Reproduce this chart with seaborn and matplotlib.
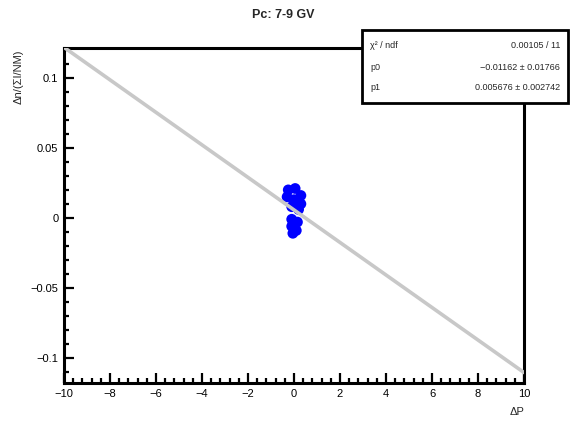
import numpy as np
import pandas as pd
import matplotlib
matplotlib.use("Agg")
import matplotlib.pyplot as plt
import seaborn as sns
from matplotlib.ticker import MultipleLocator

# data
dp_vals = [-0.25, 0.05, 0.3, -0.3, 0.0, 0.3, -0.1, 0.2, -0.1, 0.15, -0.1, 0.1, -0.05]
dn_vals = [0.020, 0.021, 0.016, 0.015, 0.013, 0.010, 0.008, 0.006, -0.001, -0.003, -0.006, -0.009, -0.011]
fit_slope = -0.01162
fit_slope_err = 0.01766
fit_icpt = 0.005676
fit_icpt_err = 0.002742
chi2_text = "0.00105 / 11"
x_range = [-10, 10]
x_ticks = list(range(-10, 11, 2))
y_ticks = [-0.1, -0.05, 0, 0.05, 0.1]
y_tick_labels = ["\u22120.1", "\u22120.05", "0", "0.05", "0.1"]
title = "Pc: 7-9 GV"

sns.set_theme(style="white")
plt.rcParams['font.family'] = ['Liberation Sans', 'DejaVu Sans']

fig = plt.figure(figsize=(5.71, 4.22), dpi=100)
ax = fig.add_axes([64/571, 1-383/422, (524-64)/571, (383-48)/422])

pts = pd.DataFrame({"dp": dp_vals, "dn": dn_vals})
sns.scatterplot(data=pts, x="dp", y="dn", ax=ax, color="#0000ff", s=60,
                edgecolor="none", zorder=2)

fx = np.array(x_range, dtype=float)
line_df = pd.DataFrame({"x": fx, "y": fit_icpt + fit_slope * fx})
sns.lineplot(data=line_df, x="x", y="y", ax=ax, color="#c8c8c8", linewidth=2.6, zorder=3)

ax.set_xlim(-10, 10)
ax.set_ylim(-0.118, 0.1214)
ax.set_xticks(x_ticks)
ax.set_xticklabels([("\u2212" + str(-v)) if v < 0 else str(v) for v in x_ticks])
ax.set_yticks(y_ticks)
ax.set_yticklabels(y_tick_labels)
ax.xaxis.set_minor_locator(MultipleLocator(0.4))
ax.yaxis.set_minor_locator(MultipleLocator(0.01))
ax.tick_params(which="both", direction="in", bottom=True, left=True, top=False, right=False,
               colors="black", labelsize=8, width=1.6)
ax.tick_params(which="major", length=7, pad=4)
ax.tick_params(which="minor", length=3.5)
for sp in ax.spines.values():
    sp.set_color("black")
    sp.set_linewidth(2.2)

ax.set_xlabel("")
ax.set_ylabel("")
fig.text(524/571, 1-412/422, "\u0394P", ha="right", va="center", fontsize=8)
fig.text(19/571, 1-49/422, "\u0394n/(\u03a3I/NM)", ha="center", va="top",
         rotation=90, fontsize=8)
fig.text(283/571, 1-15/422, title, ha="center", va="center", fontsize=9, fontweight="bold")

# stats box
bx0, bx1 = 362/571, 568/571
by0, by1 = 1-103/422, 1-30/422
box = plt.Rectangle((bx0, by0), bx1-bx0, by1-by0, transform=fig.transFigure,
                    facecolor="white", edgecolor="black", linewidth=2.0, zorder=5)
fig.patches.append(box)
rows = [("\u03c7\u00b2 / ndf", chi2_text),
        ("p0", f"{fit_slope:.5f} \u00b1 {fit_slope_err:.5f}"),
        ("p1", f"{fit_icpt:.6f} \u00b1 {fit_icpt_err:.6f}")]
row_y = [45, 67, 87]
for (lab, val), yy in zip(rows, row_y):
    fig.text(370/571, 1-yy/422, lab, ha="left", va="center", fontsize=6.5, zorder=6)
    fig.text(560/571, 1-yy/422, val.replace("-", "\u2212"), ha="right", va="center",
             fontsize=6.5, zorder=6)

fig.savefig("out.png", dpi=100)
